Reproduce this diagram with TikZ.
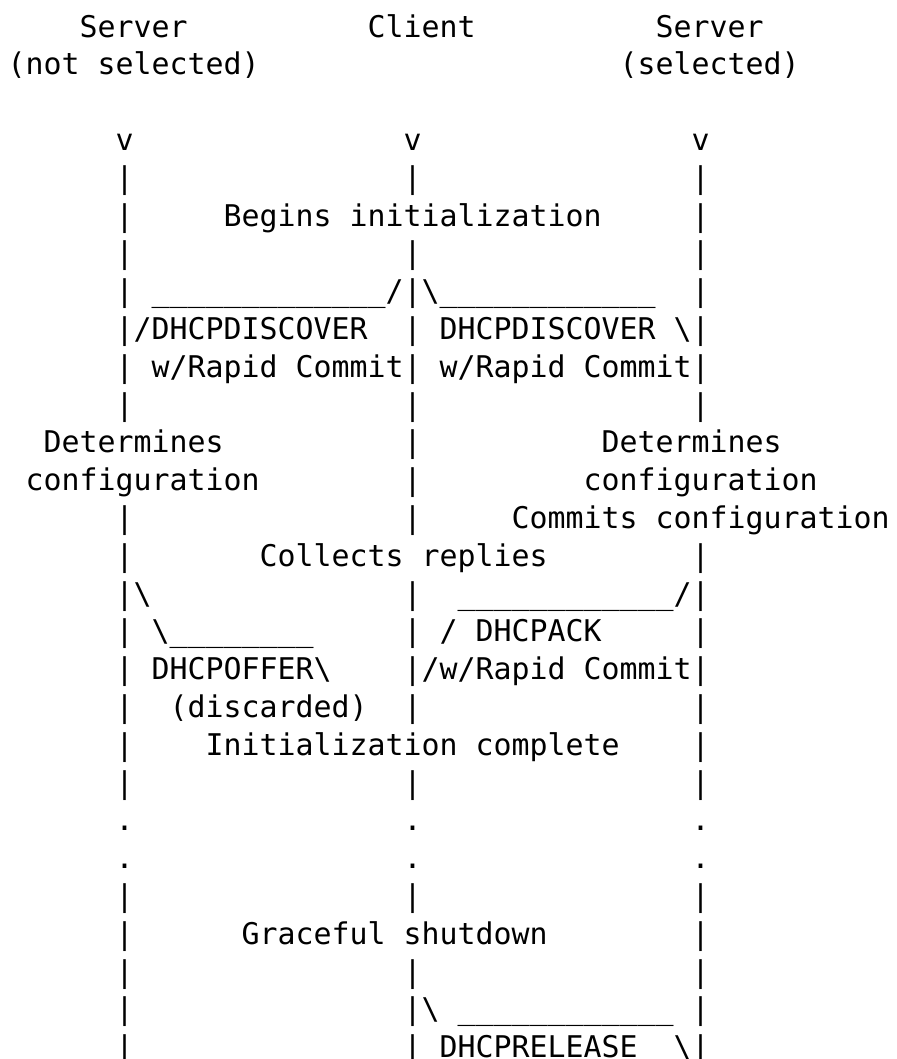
\documentclass[tikz,border=0pt]{standalone}
\usepackage{fontspec}
\setmonofont{DejaVu Sans Mono}
\newcommand\unds[1]{\foreach \i in {1,...,#1}{\_}}
\tikzset{ascii/.style={anchor=base west,inner sep=0pt,outer sep=0pt,
  font=\ttfamily\fontsize{29.9pt}{37.8pt}\selectfont}}
\begin{document}
\begin{tikzpicture}[x=18pt,y=-37.8pt]
\useasboundingbox (-0.422,0.021) rectangle (49.356,28.037);
\node[ascii] (srvA) at (4,1) {Server};
\node[ascii] (cli) at (20,1) {Client};
\node[ascii] (srvB) at (36,1) {Server};
\node[ascii] (srvAsub) at (0,2) {(not selected)};
\node[ascii] (srvBsub) at (34,2) {(selected)};
\foreach \c/\n in {6/A,22/C,38/B}
\node[ascii] (v\n) at (\c,4) {v};
\foreach \r in {5,...,11,14,15,...,21,24,25,...,28}
\node[ascii] (lifeA-\r) at (6,\r) {|};
\foreach \r in {5,7,8,...,14,16,17,18,19,21,24,26,27,28}
\node[ascii] (lifeC-\r) at (22,\r) {|};
\foreach \r in {5,...,11,15,16,...,21,24,25,...,28}
\node[ascii] (lifeB-\r) at (38,\r) {|};
\foreach \r in {22,23}
\foreach \c/\n in {6/A,22/C,38/B}
\node[ascii] (dot\n-\r) at (\c,\r) {.};
\node[ascii] (begins) at (12,6) {Begins initialization};
\node[ascii] (discA) at (8,8) {\unds{13}/};
\node[ascii] (discB) at (23,8) {\textbackslash\unds{12}};
\node[ascii] (discAlbl) at (7,9) {/DHCPDISCOVER};
\node[ascii] (discBlbl) at (24,9) {DHCPDISCOVER};
\node[ascii] (discBtip) at (37,9) {\textbackslash};
\node[ascii] (rcA) at (8,10) {w/Rapid Commit};
\node[ascii] (rcB) at (24,10) {w/Rapid Commit};
\node[ascii] (detA) at (2,12) {Determines};
\node[ascii] (detB) at (33,12) {Determines};
\node[ascii] (cfgA) at (1,13) {configuration};
\node[ascii] (cfgB) at (32,13) {configuration};
\node[ascii] (commit) at (28,14) {Commits configuration};
\node[ascii] (collect) at (14,15) {Collects replies};
\node[ascii] (offerA) at (7,16) {\textbackslash};
\node[ascii] (offerB) at (8,17) {\textbackslash\unds{8}};
\node[ascii] (offer) at (8,18) {DHCPOFFER\textbackslash};
\node[ascii] (discard) at (9,19) {(discarded)};
\node[ascii] (ackA) at (25,16) {\unds{12}/};
\node[ascii] (ack) at (24,17) {/ DHCPACK};
\node[ascii] (ackrc) at (23,18) {/w/Rapid Commit};
\node[ascii] (initdone) at (11,20) {Initialization complete};
\node[ascii] (shutdown) at (13,25) {Graceful shutdown};
\node[ascii] (relA) at (23,27) {\textbackslash};
\node[ascii] (relB) at (25,27) {\unds{12}};
\node[ascii] (rel) at (24,28) {DHCPRELEASE};
\node[ascii] (reltip) at (37,28) {\textbackslash};
\end{tikzpicture}
\end{document}
